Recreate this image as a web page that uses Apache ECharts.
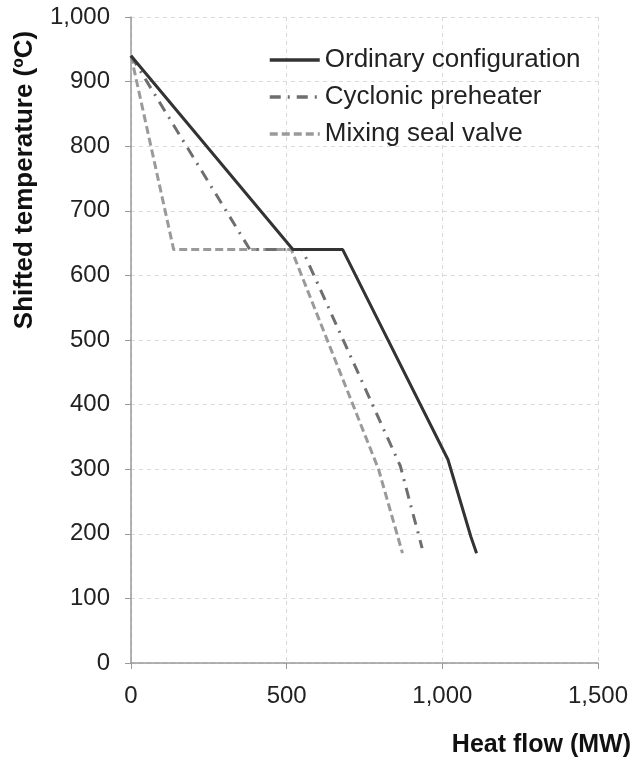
<!DOCTYPE html>
<html>
<head>
<meta charset="utf-8">
<script src="https://cdn.jsdelivr.net/npm/echarts@6/dist/echarts.min.js"></script>
<style>html,body{margin:0;padding:0;background:#fff}#main{width:643px;height:763px}</style>
</head>
<body>
<div id="main"></div>
<script>
// [heat flow MW, shifted temperature C]
var ordinary = [[0, 940], [520, 640], [680, 640], [1018, 315], [1092, 195], [1110, 170]];
var cyclonic = [[0, 940], [382, 640], [550, 640], [865, 305], [935, 178]];
var mixing = [[0, 940], [137, 640], [515, 640], [795, 300], [872, 170]];

var seriesNames = ['Ordinary configuration', 'Cyclonic preheater', 'Mixing seal valve'];

function fmt(v) {
    return String(v).replace(/\B(?=(\d{3})+(?!\d))/g, ',');
}

var chart = echarts.init(document.getElementById('main'), null, { renderer: 'canvas' });
var font = '"Liberation Sans", Arial, sans-serif';
var gridLine = { show: true, lineStyle: { color: '#d9d9d9', type: [4, 4], width: 1 } };

var option = {
    animation: false,
    textStyle: { fontFamily: font },
    grid: { left: 131, right: 45, top: 17, bottom: 100 },
    legend: {
        orient: 'vertical',
        left: 263,
        top: 42,
        itemWidth: 50,
        itemHeight: 14,
        itemGap: 11,
        data: seriesNames,
        itemStyle: { opacity: 0 },
        lineStyle: { width: 3.5 },
        textStyle: { fontSize: 26, color: '#222', fontFamily: font }
    },
    xAxis: {
        type: 'value',
        min: 0,
        max: 1500,
        interval: 500,
        axisLine: { show: true, lineStyle: { color: '#999', width: 1.5 } },
        axisTick: { show: true, length: 6, lineStyle: { color: '#999' } },
        axisLabel: { fontSize: 24, color: '#222', margin: 21, formatter: fmt },
        splitLine: gridLine
    },
    yAxis: {
        type: 'value',
        min: 0,
        max: 1000,
        interval: 100,
        axisLine: { show: true, lineStyle: { color: '#999', width: 1.5 } },
        axisTick: { show: true, length: 6, lineStyle: { color: '#999' } },
        axisLabel: { fontSize: 24, color: '#222', margin: 21, formatter: fmt },
        splitLine: gridLine
    },
    graphic: [
        {
            type: 'text',
            x: 25,
            y: 180,
            rotation: Math.PI / 2,
            style: {
                text: 'Shifted temperature (ºC)',
                font: 'bold 26px ' + font,
                fill: '#111',
                align: 'center',
                verticalAlign: 'middle'
            }
        },
        {
            type: 'text',
            right: 12,
            top: 733,
            style: {
                text: 'Heat flow (MW)',
                font: 'bold 25px ' + font,
                fill: '#111'
            }
        }
    ],
    series: [
        {
            name: seriesNames[0],
            type: 'line',
            data: ordinary,
            symbol: 'none',
            lineStyle: { color: '#333', width: 3 },
            itemStyle: { color: '#333' },
            z: 5
        },
        {
            name: seriesNames[1],
            type: 'line',
            data: cyclonic,
            symbol: 'none',
            lineStyle: { color: '#6e6e6e', width: 3, type: [11, 7, 2, 7] },
            itemStyle: { color: '#6e6e6e' },
            z: 4
        },
        {
            name: seriesNames[2],
            type: 'line',
            data: mixing,
            symbol: 'none',
            lineStyle: { color: '#9a9a9a', width: 3, type: [8, 4] },
            itemStyle: { color: '#9a9a9a' },
            z: 3
        }
    ]
};
chart.setOption(option);
</script>
</body>
</html>
